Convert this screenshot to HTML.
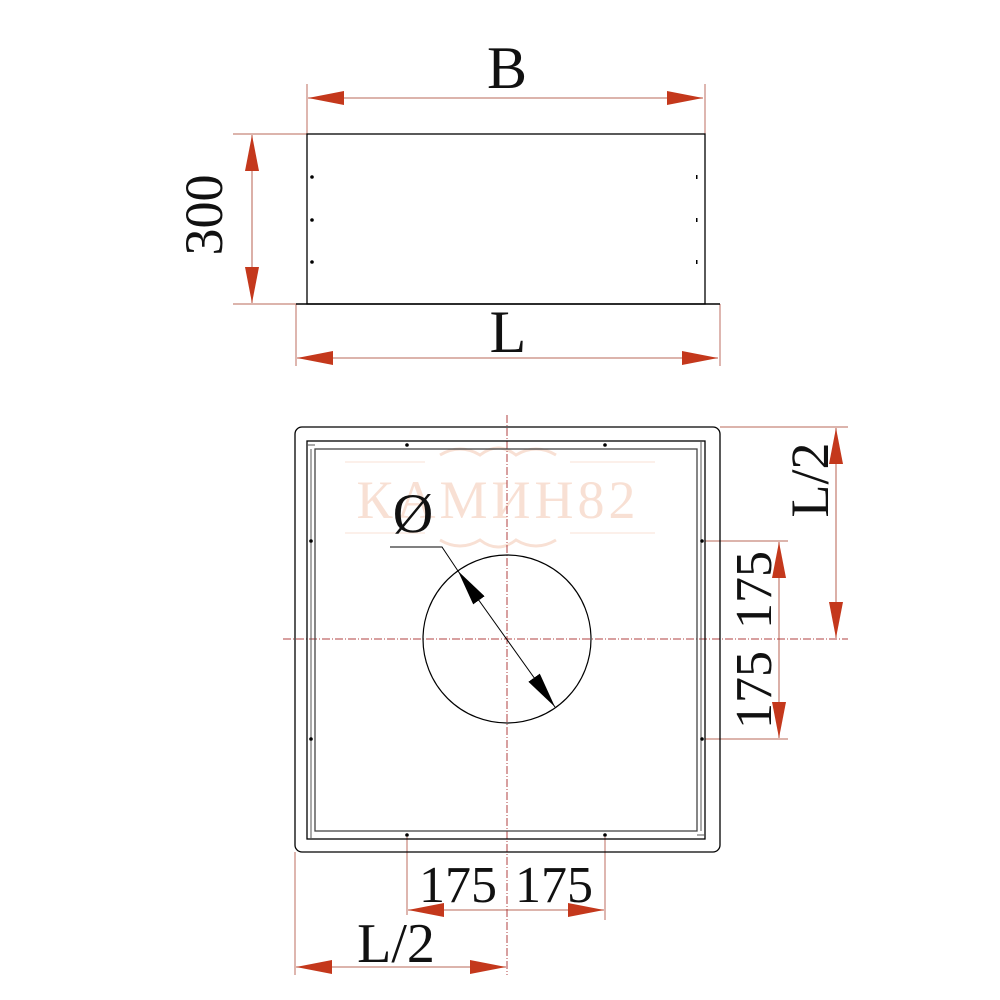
<!DOCTYPE html>
<html><head><meta charset="utf-8"><style>body{margin:0;background:#fff}svg{display:block}</style></head><body>
<svg width="1000" height="1000" viewBox="0 0 1000 1000" xmlns="http://www.w3.org/2000/svg" font-family="Liberation Serif, serif">
<defs>
<marker id="a" viewBox="0 0 36 14" refX="36" refY="7" markerWidth="36" markerHeight="14" markerUnits="userSpaceOnUse" orient="auto-start-reverse"><path d="M0,0 L36,7 L0,14 Z" fill="#c4381c"/></marker>
<marker id="k" viewBox="0 0 36 14" refX="36" refY="7" markerWidth="36" markerHeight="14" markerUnits="userSpaceOnUse" orient="auto-start-reverse"><path d="M0,0 L36,7 L0,14 Z" fill="#000"/></marker>
</defs>
<!-- watermark -->
<text x="498" y="518" font-size="54" fill="#f8e0d4" text-anchor="middle" letter-spacing="4">КАМИН82</text>
<line x1="345" y1="462" x2="425" y2="462" stroke="#f8e0d4"/><line x1="570" y1="462" x2="655" y2="462" stroke="#f8e0d4"/>
<line x1="345" y1="533" x2="425" y2="533" stroke="#f8e0d4"/><line x1="570" y1="533" x2="655" y2="533" stroke="#f8e0d4"/>
<path d="M440,455 q20,-12 40,0 q18,-14 36,0 q20,-12 40,0" fill="none" stroke="#f8e0d4" stroke-width="3"/>
<path d="M440,540 q20,12 40,0 q18,14 36,0 q20,12 40,0" fill="none" stroke="#f8e0d4" stroke-width="3"/>

<g stroke="#c8867a" stroke-width="1.2" fill="none">
<line x1="307" y1="84" x2="307" y2="134"/><line x1="705" y1="84" x2="705" y2="134"/>
<line x1="233" y1="134" x2="307" y2="134"/><line x1="233" y1="304" x2="296" y2="304"/>
<line x1="296" y1="304" x2="296" y2="366"/><line x1="720" y1="304" x2="720" y2="366"/>
<line x1="720" y1="427" x2="848" y2="427"/>
<line x1="705" y1="541" x2="788" y2="541"/><line x1="705" y1="739" x2="788" y2="739"/>
<line x1="295" y1="852" x2="295" y2="975"/>
<line x1="407" y1="837" x2="407" y2="915"/><line x1="605" y1="837" x2="605" y2="920"/>
</g>
<g stroke="#c8867a" stroke-width="1.3">
<line x1="308" y1="98" x2="703" y2="98" marker-start="url(#a)" marker-end="url(#a)"/>
<line x1="297" y1="358" x2="718" y2="358" marker-start="url(#a)" marker-end="url(#a)"/>
<line x1="252" y1="135" x2="252" y2="303" marker-start="url(#a)" marker-end="url(#a)"/>
<line x1="836" y1="428" x2="836" y2="638" marker-start="url(#a)" marker-end="url(#a)"/>
<line x1="779" y1="542" x2="779" y2="738" marker-start="url(#a)" marker-end="url(#a)"/>
<line x1="408" y1="910" x2="604" y2="910" marker-start="url(#a)" marker-end="url(#a)"/>
<line x1="296" y1="967" x2="506" y2="967" marker-start="url(#a)" marker-end="url(#a)"/>
</g>
<g stroke="#b04040" stroke-width="1" stroke-dasharray="8,2,1,2">
<line x1="507" y1="415" x2="507" y2="975"/>
<line x1="283" y1="639" x2="848" y2="639"/>
</g>

<rect x="307" y="134" width="398" height="170" fill="none" stroke="#000" stroke-width="1.3"/>
<line x1="296" y1="304" x2="720" y2="304" stroke="#000" stroke-width="1.5"/>
<g fill="#000"><circle cx="312" cy="177" r="1.8"/><circle cx="312" cy="220" r="1.8"/><circle cx="312" cy="262" r="1.8"/>
<rect x="696" y="175" width="1.5" height="4"/><rect x="696" y="218" width="1.5" height="4"/><rect x="696" y="260" width="1.5" height="4"/></g>

<rect x="295" y="427" width="425" height="425" rx="7" fill="none" stroke="#000" stroke-width="1.3"/>
<rect x="307" y="441" width="398" height="398" fill="none" stroke="#000" stroke-width="1.3"/>
<rect x="315" y="449" width="382" height="382" fill="none" stroke="#444" stroke-width="1.3"/>
<line x1="307" y1="445" x2="315" y2="445" stroke="#555"/><line x1="311" y1="449" x2="311" y2="839" stroke="#555"/>
<line x1="701" y1="441" x2="701" y2="831" stroke="#555"/><line x1="697" y1="835" x2="705" y2="835" stroke="#555"/>
<g fill="#000"><circle cx="407" cy="445" r="1.8"/><circle cx="605" cy="445" r="1.8"/><circle cx="407" cy="835" r="1.8"/><circle cx="605" cy="835" r="1.8"/>
<circle cx="311" cy="541" r="1.8"/><circle cx="311" cy="739" r="1.8"/><circle cx="702" cy="541" r="1.8"/><circle cx="702" cy="739" r="1.8"/></g>
<circle cx="507" cy="639" r="84" fill="none" stroke="#000" stroke-width="1.2"/>
<polyline points="390,547 442,547 458,571" fill="none" stroke="#000" stroke-width="1"/>
<line x1="458" y1="571" x2="555" y2="707" stroke="#000" stroke-width="1" marker-start="url(#k)" marker-end="url(#k)"/>

<g fill="#111">
<text x="507" y="88" font-size="60" text-anchor="middle">B</text>
<text x="508" y="352" font-size="60" text-anchor="middle">L</text>
<text transform="translate(222,215) rotate(-90)" font-size="54" text-anchor="middle">300</text>
<text x="413" y="532" font-size="56" text-anchor="middle">Ø</text>
<text transform="translate(828,480) rotate(-90)" font-size="54" text-anchor="middle">L/2</text>
<text transform="translate(771,590) rotate(-90)" font-size="52" text-anchor="middle">175</text>
<text transform="translate(771,690) rotate(-90)" font-size="52" text-anchor="middle">175</text>
<text x="458" y="902" font-size="52" text-anchor="middle">175</text>
<text x="554" y="902" font-size="52" text-anchor="middle">175</text>
<text x="396" y="962" font-size="56" text-anchor="middle">L/2</text>
</g>
</svg>
</body></html>
